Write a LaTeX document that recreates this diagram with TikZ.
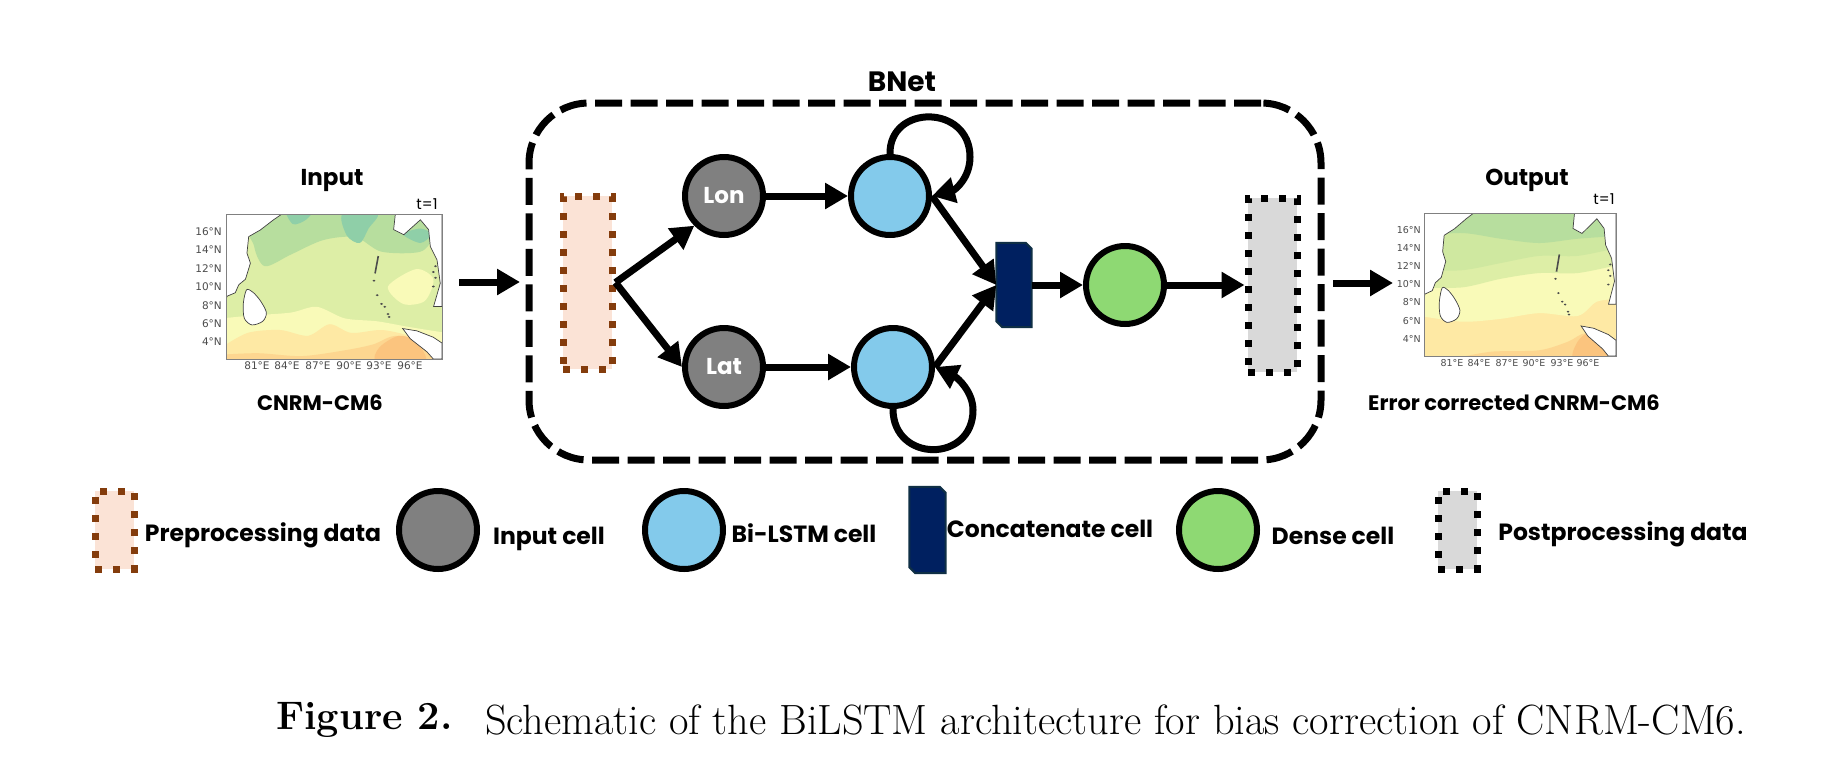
\documentclass[tikz,border=0pt]{standalone}
\usepackage{fontspec}
\usepackage{tikz}
\usetikzlibrary{arrows.meta,positioning}
\newfontfamily\labelfont{Poppins}
\newfontfamily\tickfont{DejaVu Sans}
\definecolor{prefill}{HTML}{FBE3D6}
\definecolor{predot}{HTML}{843C0C}
\definecolor{inputgray}{HTML}{808080}
\definecolor{lstmblue}{HTML}{83CAEB}
\definecolor{densegreen}{HTML}{8ED973}
\definecolor{concatnavy}{HTML}{002060}
\definecolor{concatedge}{HTML}{0F2F45}
\definecolor{postfill}{HTML}{D9D9D9}
\definecolor{teal}{HTML}{8FCFA8}
\definecolor{greenA}{HTML}{B7DE9E}
\definecolor{greenB}{HTML}{CFE8A0}
\definecolor{greenC}{HTML}{DDEEA6}
\definecolor{yellowA}{HTML}{F9FAB8}
\definecolor{yellowB}{HTML}{FEE9A4}
\definecolor{orangeA}{HTML}{FDD690}
\definecolor{orangeB}{HTML}{FBC47E}
% land and islands in map units 0..100
\newcommand{\landshapes}{%
  \fill[white,draw=black!75,line width=0.7pt] (25.9,0) -- (22,4) -- (15.9,11) -- (10.5,15.6) -- (9.7,27) -- (11.3,33.9) -- (9,45) -- (5.9,48.8) -- (4.3,54.3) -- (0.5,56.7) -- (0,59) -- (0,0) -- cycle;
  \fill[white,draw=black!75,line width=0.7pt] plot[smooth cycle] coordinates {(9.5,52.3) (8,62) (8.5,72) (12,76.5) (17,74) (18.7,68) (16,60) (12.5,54)};
  \fill[white,draw=black!75,line width=0.7pt] (78.4,0) -- (77.6,10.8) -- (82.3,14.3) -- (90,4) -- (93.8,10.8) -- (94.6,22.4) -- (97.7,31.7) -- (99.2,47.8) -- (96.1,63.8) -- (100,63.8) -- (100,0) -- cycle;
  \fill[white,draw=black!75,line width=0.7pt] (81.8,79) -- (85.3,86) -- (93,95) -- (96,100) -- (100,100) -- (100,89) -- (96,85) -- (88.4,80.6) -- cycle;
  \draw[black!70,line width=1.6pt] (70.5,29) -- (69,41);
  \foreach \isx/\isy in {68.5/46,70/56,72/62,73.5/64,75/69,75.5/71,97/36,96/40,97/44,96/50}
    \fill[black!70] (\isx,\isy) circle[radius=0.7];
}
% block with two cut corners, round a node
\newcommand{\concatoutline}[1]{%
  \draw[concatline] (#1.north west) -- ([xshift=-6pt]#1.north east) -- ([yshift=-6pt]#1.north east) -- (#1.south east) -- ([xshift=6pt]#1.south west) -- ([yshift=6pt]#1.south west) -- cycle;
}
\begin{document}
\begin{tikzpicture}[
    x=1pt, y=-1pt,
    node distance=100pt, on grid,
    cell/.style={circle, draw=black, line width=6pt, minimum size=78pt, inner sep=0pt},
    preblock/.style={rectangle, draw=predot, fill=prefill, line width=7pt, dash pattern=on 7pt off 11pt, minimum width=49pt, minimum height=173pt, inner sep=0pt},
    postblock/.style={rectangle, draw=black, fill=postfill, line width=7pt, dash pattern=on 7pt off 11pt, minimum width=49pt, minimum height=174pt, inner sep=0pt},
    concatblock/.style={rectangle, minimum width=35pt, minimum height=84pt, inner sep=0pt},
    concatline/.style={draw=concatedge, fill=concatnavy, line width=2pt},
    netbox/.style={rectangle, draw=black, rounded corners=60pt, line width=7pt, dash pattern=on 27pt off 8.5pt, minimum width=792pt, minimum height=357pt, inner sep=0pt},
    arrow/.style={-{Triangle[length=23pt,width=25pt]}, line width=7pt, black},
    legendtext/.style={font=\labelfont\bfseries\fontsize{23.5}{26}\selectfont},
    titletext/.style={font=\labelfont\bfseries\fontsize{21}{24}\selectfont},
    headtext/.style={font=\labelfont\bfseries\fontsize{23}{26}\selectfont},
    celltext/.style={font=\labelfont\bfseries\fontsize{23}{26}\selectfont, text=white},
    timetext/.style={font=\labelfont\fontsize{15}{18}\selectfont},
    ticklabel/.style={font=\tickfont\fontsize{10.5}{12}\selectfont, text=black!70, inner sep=0pt},
    ticklabelout/.style={font=\tickfont\fontsize{9.5}{12}\selectfont, text=black!70, inner sep=0pt},
]
\useasboundingbox (0,0) rectangle (1832,769);
\fill[white] (0,0) rectangle (1832,769);

% input map
\begin{scope}[shift={(226,214)},x=2.16pt,y=1.45pt,yscale=-1]
\begin{scope}
\clip (0,0) rectangle (100,100);
\fill[greenC] (0,0) rectangle (100,100);
\fill[greenA] plot[smooth cycle] coordinates {(14,0) (13,22) (18,36) (30,28) (45,18) (60,16) (72,26) (90,26) (96,15) (95,0)};
\fill[teal] plot[smooth cycle] coordinates {(28,-3) (31,7) (37,4) (40,-3)};
\fill[teal] plot[smooth cycle] coordinates {(54,0) (56,15) (62,20) (66,10) (70,0)};
\fill[teal] plot[smooth cycle] coordinates {(82,14) (90,20) (95,14) (90,10)};
\fill[yellowA] plot[smooth] coordinates {(-2,72) (12,70) (30,68) (42,64) (55,72) (70,74) (85,78) (102,82)} -- (102,102) -- (-2,102) -- cycle;
\fill[yellowA] plot[smooth cycle] coordinates {(75,50) (88,38) (96,45) (92,60) (82,62)};
\fill[yellowB] plot[smooth] coordinates {(-2,92) (10,82) (25,80) (38,84) (48,76) (58,82) (72,80) (85,84) (102,92)} -- (102,102) -- (-2,102) -- cycle;
\fill[orangeA] plot[smooth] coordinates {(-2,97) (15,96) (35,98) (55,94) (68,90) (80,84) (102,94)} -- (102,102) -- (-2,102) -- cycle;
\fill[orangeB] plot[smooth cycle] coordinates {(70,102) (71,92) (80,84) (88,88) (92,102)};
\landshapes
\end{scope}
\end{scope}
\node[rectangle, draw=black!50, line width=1pt, minimum width=216pt, minimum height=145pt, inner sep=0pt] (inmap) at (334,286.5) {};

% output map
\begin{scope}[shift={(1424,213)},x=1.92pt,y=1.43pt,yscale=-1]
\begin{scope}
\clip (0,0) rectangle (100,100);
\fill[yellowB] (0,0) rectangle (100,100);
\fill[yellowA] plot[smooth] coordinates {(-2,72) (20,76) (40,74) (60,70) (80,72) (90,62) (102,60)} -- (102,-2) -- (-2,-2) -- cycle;
\fill[greenC] plot[smooth] coordinates {(-2,52) (20,52) (40,46) (60,42) (80,42) (102,36)} -- (102,-2) -- (-2,-2) -- cycle;
\fill[greenB] plot[smooth] coordinates {(-2,40) (20,40) (40,35) (60,30) (80,30) (102,24)} -- (102,-2) -- (-2,-2) -- cycle;
\fill[greenA] plot[smooth] coordinates {(-2,16) (20,14) (40,18) (60,21) (80,18) (102,16)} -- (102,-2) -- (-2,-2) -- cycle;
\fill[orangeA] plot[smooth] coordinates {(15,102) (35,97) (60,96) (75,90) (85,84) (102,92)} -- (102,102) -- cycle;
\fill[orangeB] plot[smooth cycle] coordinates {(78,102) (80,90) (86,84) (94,92) (96,102)};
\landshapes
\end{scope}
\end{scope}
\node[rectangle, draw=black!50, line width=1pt, minimum width=192pt, minimum height=143pt, inner sep=0pt] (outmap) at (1520,284.5) {};

% map ticks
\foreach \latval/\ypos in {16/232,14/250,12/269,10/287,8/306,6/324,4/342}
  \node[ticklabel, anchor=east] (inlat\latval) at (222,\ypos) {\latval°N};
\foreach \lonval/\xpos in {81/257,84/287,87/318,90/349,93/379,96/410}
  \node[ticklabel] (inlon\lonval) at (\xpos,366) {\lonval°E};
\foreach \latval/\ypos in {16/230,14/248,12/266,10/284,8/302,6/321,4/339}
  \node[ticklabelout, anchor=east] (outlat\latval) at (1421,\ypos) {\latval°N};
\foreach \lonval/\xpos in {81/1452,84/1479,87/1507,90/1534,93/1562,96/1588}
  \node[ticklabelout] (outlon\lonval) at (\xpos,363) {\lonval°E};

\node[headtext] (intitle) at (332,180) {Input};
\node[timetext] (intime) at (427,204) {t=1};
\node[titletext] (incap) at (320,403) {CNRM-CM6};
\node[headtext] (outtitle) at (1527,180) {Output};
\node[timetext] (outtime) at (1604,199) {t=1};
\node[titletext] (outcap) at (1514,403) {Error corrected CNRM-CM6};

% network
\node[netbox] (bnet) at (925,281.5) {};
\node[headtext, font=\labelfont\bfseries\fontsize{28}{30}\selectfont] (bnettitle) at (902,82) {BNet};
\node[preblock] (pre) at (587.5,282.5) {};
\node[cell, fill=inputgray, celltext, above right=86.5pt and 136.5pt of pre] (lon) {Lon};
\node[cell, fill=inputgray, celltext, below right=84.5pt and 136.5pt of pre] (lat) {Lat};
\node[cell, fill=lstmblue, right=166pt of lon] (lstmtop) {};
\node[cell, fill=lstmblue, right=169pt of lat] (lstmbot) {};
\node[concatblock, below right=89pt and 124pt of lstmtop] (concat) {};
\concatoutline{concat}
\node[cell, fill=densegreen, right=111pt of concat] (dense) {};
\node[postblock, right=147.5pt of dense] (post) {};
\coordinate (inleft) at (459,282);
\coordinate (inright) at (520,282);
\coordinate (outleft) at (1333,283);
\coordinate (outright) at (1393,283);
\coordinate (looptop) at (970,157);
\coordinate (loopbot) at (973,410);

\draw[arrow] (inleft) -- (inright);
\draw[arrow] (pre.east) -- (lon.south west);
\draw[arrow] (pre.east) -- (lat.west);
\draw[arrow] (lon) -- (lstmtop);
\draw[arrow] (lat) -- (lstmbot);
\draw[arrow] (lstmtop.east) -- (concat.west);
\draw[arrow] (lstmbot.east) -- (concat.west);
\draw[arrow] (concat.east) -- (dense.west);
\draw[arrow] (dense.east) -- (post.west);
\draw[arrow] (outleft) -- (outright);
\draw[arrow] (lstmtop.north) .. controls (889,104) and (970,104) .. (looptop) .. controls (970,178) and (955,190) .. (lstmtop.east);
\draw[arrow] (lstmbot.south) .. controls (893,463) and (973,463) .. (loopbot) .. controls (973,392) and (958,378) .. (lstmbot.east);

% legend
\node[preblock, minimum width=39pt, minimum height=78pt] (legpre) at (114.5,530) {};
\node[cell, fill=inputgray, right=323.5pt of legpre] (legin) {};
\node[cell, fill=lstmblue, right=246pt of legin] (leglstm) {};
\node[concatblock, minimum width=36pt, minimum height=86pt, right=243.5pt of leglstm] (legconcat) {};
\concatoutline{legconcat}
\node[cell, fill=densegreen, right=290.5pt of legconcat] (legdense) {};
\node[postblock, minimum width=39pt, minimum height=78pt, right=239.5pt of legdense] (legpost) {};
\node[legendtext, below right=5pt and 148.5pt of legpre] (legpretext) {Preprocessing data};
\node[legendtext, below right=9pt and 111pt of legin] (legintext) {Input cell};
\node[legendtext, below right=3pt and 120pt of leglstm] (leglstmtext) {Bi-LSTM cell};
\node[legendtext, above right=1pt and 122.5pt of legconcat] (legconcattext) {Concatenate cell};
\node[legendtext, below right=6pt and 115pt of legdense] (legdensetext) {Dense cell};
\node[legendtext, below right=4pt and 165.5pt of legpost] (legposttext) {Postprocessing data};

% caption
\node[font=\fontsize{39.8}{44}\selectfont\bfseries] (figlabel) at (364.5,720) {Figure 2.};
\node[font=\fontsize{42.3}{46}\selectfont] (figtext) at (1115.5,720) {Schematic of the BiLSTM architecture for bias correction of CNRM-CM6.};
\end{tikzpicture}
\end{document}
